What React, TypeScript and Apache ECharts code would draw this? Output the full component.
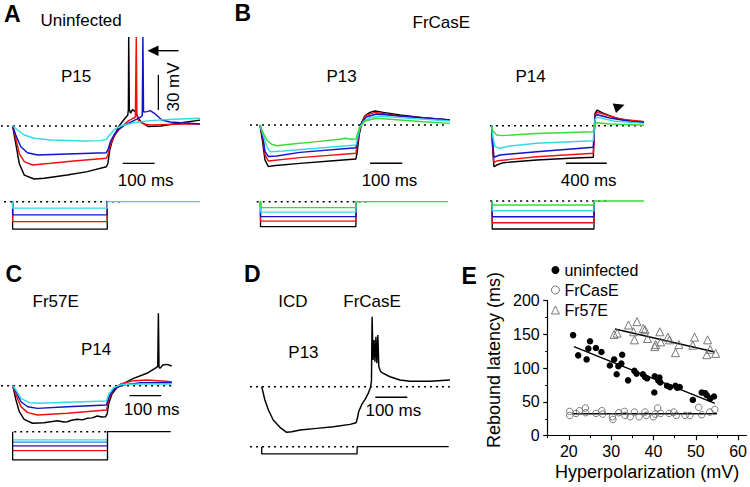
import React, { useEffect, useRef } from "react";
import * as echarts from "echarts";

type P = [number, number];

// ---------- Panel A (uninfected, P15): membrane potential, [time ms, mV re. rest]
const A_black: P[] = [[0,0],[10,-15],[21,-32],[37,-42],[68,-45.3],[100,-44.7],[173,-41.9],[237,-39],[297,-34.8],[302,-32],[308,-20.5],[315,-13.4],[326,-6.3],[336,-0.6],[352,5.1],[365,9.4],[367,14],[368,76],[370,14],[374,11],[380,14],[390,12],[400,6],[410,2.8],[430,-0.5],[470,0],[530,2.5],[594,5]];
const A_red: P[] = [[0,0],[10,-10.5],[21,-23.4],[37,-30.5],[63,-33.3],[121,-31.9],[194,-29.9],[297,-27.6],[302,-24.8],[310,-16.2],[321,-9.1],[336,-3.4],[352,0.9],[368,4.6],[382,6.6],[389,7.5],[392,76],[394,9],[399,4.6],[415,1.7],[436,0.9],[489,1.4],[594,1.7]];
const A_blue: P[] = [[0,0],[10,-7.7],[26,-17.7],[47,-22.8],[79,-24.8],[173,-23.9],[297,-22.8],[302,-20.5],[310,-13.4],[321,-7.7],[336,-2.8],[357,0.9],[384,4.6],[405,7.4],[411,9],[413,76],[415,12],[426,12.3],[436,13.1],[452,10.3],[473,5.1],[499,3.4],[594,1.7]];
const A_cyan: P[] = [[0,0],[16,-3.4],[37,-7.7],[68,-10.5],[121,-11.9],[226,-12.8],[279,-12.5],[297,-11.4],[305,-8.5],[321,-3.4],[342,0],[384,2.8],[436,4.6],[510,5.7],[594,6.6]];
// command steps (pA): black, red, blue, cyan
const A_cmd = [-550, -400, -265, -130];

// ---------- Panel B (FrCasE) P13
const B13_black: P[] = [[0,0],[8,-14.2],[15.5,-29.9],[26,-35.6],[41,-34.8],[124,-32.8],[228,-30.5],[298,-29],[302,-22.7],[308,-8.5],[316,1.4],[326,8],[342,10.8],[357,12],[383,10.8],[435,8.5],[507,6.3],[590,4.3]];
const B13_red: P[] = [[0,0],[8,-10],[15.5,-25.6],[26,-30.8],[124,-27.9],[298,-24.2],[302,-17],[308,-5.7],[316,2.3],[326,8],[357,10.8],[435,7.7],[590,4.3]];
const B13_blue: P[] = [[0,0],[8,-8.5],[15.5,-22.8],[26,-27],[52,-26.5],[124,-23.4],[298,-19.4],[302,-14.2],[308,-4.3],[316,2.3],[331,7.1],[362,9.4],[435,7.7],[590,4.3]];
const B13_cyan: P[] = [[0,0],[8,-7.1],[21,-18.5],[31,-22.8],[72,-22.2],[176,-19.9],[298,-17.1],[302,-12],[310,-2.8],[321,2.8],[342,6.3],[373,7.7],[435,6.3],[590,3.4]];
const B13_green: P[] = [[0,0],[8,-5.7],[21,-12.8],[36,-16.5],[52,-17.7],[93,-16.5],[176,-14.2],[248,-12.2],[264,-11.4],[285,-12.2],[298,-12],[302,-8],[310,-1.4],[326,3.4],[362,5.7],[435,4.3],[507,2.8],[590,1.4]];
const B13_cmd = [-500, -390, -300, -210, -120];

// ---------- Panel B (FrCasE) P14
const B14_black: P[] = [[0,0],[10,-20.8],[22,-35],[49,-33.6],[114,-31.6],[440,-29.3],[765,-27.9],[993,-27],[1000,-12],[1010,10.6],[1032,13.4],[1091,10.6],[1221,6.3],[1352,4],[1489,3.4]];
const B14_red: P[] = [[0,0],[10,-18],[22,-31.3],[59,-29.9],[440,-26.5],[993,-23.6],[1000,-9.4],[1010,9],[1032,11.5],[1124,9.1],[1254,5.7],[1489,3.4]];
const B14_blue: P[] = [[0,0],[10,-15],[22,-27],[81,-25],[440,-22.2],[993,-18.5],[1000,-6.6],[1013,8.3],[1032,9.4],[1156,6.6],[1352,3.7],[1489,2.8]];
const B14_cyan: P[] = [[0,0],[10,-9.4],[33,-17.9],[81,-19.3],[179,-17.3],[440,-15],[993,-12.8],[1000,-3.7],[1013,6.3],[1042,7.1],[1189,4],[1489,2]];
const B14_green: P[] = [[0,0],[10,-4.3],[49,-8],[98,-8.5],[440,-6.6],[993,-5.1],[1003,0.6],[1026,2.6],[1156,1.5],[1489,0.3]];
const B14_cmd = [-560, -435, -315, -195, -80];

// ---------- Panel C (Fr57E) P14
const C_black: P[] = [[0,0],[10.3,-12.2],[20.6,-22.2],[36,-28.7],[62,-32.1],[98,-31.6],[141,-29.9],[160,-31],[172,-30.8],[185,-29.5],[203,-28.7],[220,-29.2],[234,-27.9],[250,-27.5],[266,-25.9],[280,-26.8],[292,-26.5],[297,-24],[302,-15],[312,-7.1],[328,-1.4],[349,2],[380,6.3],[422,10.6],[451,15.4],[456,16.5],[458,62],[460,16],[463,14.8],[472,17.7],[485,18.2],[500,16.8]];
const C_red: P[] = [[0,0],[10.3,-8],[26,-17.9],[47,-23],[78,-25],[172,-23.5],[295,-20.8],[302,-10.8],[318,-3.1],[339,1.4],[380,4.3],[422,4.9],[500,3.4]];
const C_blue: P[] = [[0,0],[10.3,-5.1],[26,-13.7],[47,-18],[78,-19.4],[172,-18],[295,-16.5],[302,-9.4],[318,-3.1],[344,0.6],[403,2.6],[500,2.6]];
const C_cyan: P[] = [[0,0],[10.3,-3.7],[26,-10.8],[52,-14.5],[88,-15],[172,-14.2],[295,-13.1],[302,-7.1],[318,-1.4],[344,1.1],[403,1.4],[500,1.4]];
// black, red, blue, light blue, cyan
const C_cmd = [-565, -380, -285, -210, -165];

// ---------- Panel D (ICD FrCasE) P13
const D_trace: P[] = [[0,0],[10,-11.4],[21,-19.9],[36,-28.5],[57,-34.7],[78,-39],[94,-38.5],[120,-37],[172,-35.6],[224,-34.2],[276,-32.2],[295,-30.8],[299,-27],[303,-21.4],[312,-15.6],[323,-10.8],[333,-5.7],[340,-0.6],[343,5.1],[345,59.8],[348,22.8],[351,39.9],[354,21.4],[357,42.7],[360,20],[363,44.2],[366,17.1],[372,12.8],[380,11.4],[401,8.5],[432,5.7],[463,4.6],[526,4.6],[588,5.7]];
const D_cmd = [-145];

// ---------- Panel E: rebound latency (ms) vs hyperpolarization (mV)
const E_uninfected: P[] = [[21.0,149],[22.2,119],[24.2,113],[24.6,129],[25.0,140],[26.4,130],[27.7,124],[29.7,104],[30.7,113],[31.3,91],[31.7,103],[32.4,107],[32.6,120],[34.0,82],[35.5,96],[36.0,92],[37.5,91],[38.0,87],[38.5,85],[40.2,64],[40.3,88],[41.1,82],[41.4,86],[41.6,79],[43.2,74],[43.9,72],[45.2,74],[45.6,71],[46.2,72],[49.3,53],[51.4,64],[52.2,63],[52.6,60],[53.4,55],[54.3,58]];
const E_frcase: P[] = [[20.2,36],[20.2,30],[21.7,33],[22.5,37],[23.9,41],[24.0,34],[26.4,33],[27.8,37],[28.0,32],[30.3,28],[30.4,24],[31.8,34],[33.1,36],[33.3,30],[34.5,28],[35.5,35],[36.6,28],[38.0,35],[38.3,30],[40.0,28],[40.4,32],[41.0,41],[41.7,33],[43.7,33],[44.8,35],[45.4,30],[47.5,30],[48.6,30],[50.7,42],[51.4,31],[53.3,35],[54.5,39]];
const E_fr57e: P[] = [[30.7,150],[31.4,152],[34.1,164],[35.3,154],[35.5,142],[36.1,169],[37.6,159],[38.0,157],[38.6,144],[40.3,132],[40.5,135],[41.5,154],[41.7,139],[43.4,146],[43.8,142],[45.2,123],[46.0,135],[49.3,134],[49.7,146],[52.6,120],[52.8,142],[53.4,128],[54.7,122]];
const E_fit_uninfected: P[] = [[21.2,132],[54.5,48]];
const E_fit_frcase: P[] = [[21,32.5],[55,32.5]];
const E_fit_fr57e: P[] = [[30.9,158],[54.5,124]];
const E_xTicks = [20, 30, 40, 50, 60];
const E_xMinor = [15, 25, 35, 45, 55];

// ---------- colours
const BLACK = "#000000";
const RED = "#f01010";
const BLUE = "#1212c8";
const CYAN = "#30dde6";
const GREEN = "#3ada3a";
const LBLUE = "#2f86dc";
const OPEN = "#6a6a6a";

// ---------- layout of the panel coordinate systems (px origin, px per unit)
type Panel = { ox: number; oy: number; sx: number; sy: number; t: [number, number]; v: [number, number] };
const panels: Panel[] = [
  { ox: 11.7, oy: 126, sx: 0.317, sy: 1.17, t: [-40, 600], v: [-50, 80] }, // 0 A
  { ox: 11.7, oy: 201.7, sx: 0.317, sy: 0.05, t: [-40, 600], v: [-600, 60] }, // 1 A cmd
  { ox: 260, oy: 125, sx: 0.322, sy: 1.17, t: [-40, 600], v: [-45, 20] }, // 2 B13
  { ox: 260.5, oy: 201.7, sx: 0.318, sy: 0.05, t: [-40, 600], v: [-600, 60] }, // 3 B13 cmd
  { ox: 491.7, oy: 125.7, sx: 0.1023, sy: 1.17, t: [-30, 1520], v: [-45, 25] }, // 4 B14
  { ox: 492.2, oy: 201, sx: 0.1018, sy: 0.05, t: [-30, 1520], v: [-600, 60] }, // 5 B14 cmd
  { ox: 11.7, oy: 385.7, sx: 0.32, sy: 1.17, t: [-40, 520], v: [-40, 70] }, // 6 C
  { ox: 11.7, oy: 431.7, sx: 0.318, sy: 0.05, t: [-40, 520], v: [-600, 60] }, // 7 C cmd
  { ox: 261.7, oy: 386.7, sx: 0.32, sy: 1.17, t: [-40, 600], v: [-45, 65] }, // 8 D
  { ox: 261.7, oy: 446.7, sx: 0.318, sy: 0.05, t: [-40, 600], v: [-600, 60] }, // 9 D cmd
];

const FONT = "'Liberation Sans', Arial, Helvetica, sans-serif";

function buildOption() {
  const grids: any[] = [];
  const xAxes: any[] = [];
  const yAxes: any[] = [];
  panels.forEach((p, i) => {
    grids.push({
      left: p.ox + p.t[0] * p.sx,
      top: p.oy - p.v[1] * p.sy,
      width: (p.t[1] - p.t[0]) * p.sx,
      height: (p.v[1] - p.v[0]) * p.sy,
      containLabel: false,
    });
    xAxes.push({ type: "value", gridIndex: i, min: p.t[0], max: p.t[1], show: false });
    yAxes.push({ type: "value", gridIndex: i, min: p.v[0], max: p.v[1], show: false });
  });

  // panel E grid
  const eIdx = panels.length;
  grids.push({ left: 547.7, top: 300.7, width: 202.1, height: 135, containLabel: false });
  const axisCommon = {
    axisLine: { show: true, lineStyle: { color: "#000", width: 1.2 } },
    axisLabel: { color: "#000", fontSize: 16, fontFamily: FONT, margin: 8 },
    splitLine: { show: false },
    nameTextStyle: { color: "#000", fontSize: 18, fontFamily: FONT },
  };
  xAxes.push({
    ...axisCommon,
    type: "value",
    gridIndex: eIdx,
    min: 15,
    max: 62,
    position: "bottom",
    axisTick: { show: true, length: 4.5, lineStyle: { color: "#000", width: 1.2 }, customValues: E_xTicks },
    axisLabel: { ...axisCommon.axisLabel, customValues: E_xTicks },
    name: "Hyperpolarization (mV)",
    nameLocation: "middle",
    nameGap: 27,
  });
  yAxes.push({
    ...axisCommon,
    type: "value",
    gridIndex: eIdx,
    min: 0,
    max: 200,
    interval: 50,
    axisTick: { show: true, length: 4.5, lineStyle: { color: "#000", width: 1.2 } },
    minorTick: { show: true, splitNumber: 2, length: 2.5, lineStyle: { color: "#000", width: 1 } },
    minorSplitLine: { show: false },
  });
  // minor ticks on x
  xAxes.push({
    type: "value",
    gridIndex: eIdx,
    min: 15,
    max: 62,
    position: "bottom",
    axisLine: { show: false },
    axisLabel: { show: false },
    splitLine: { show: false },
    axisTick: { show: true, length: 2.5, lineStyle: { color: "#000", width: 1 }, customValues: E_xMinor },
  });

  const series: any[] = [];
  const line = (g: number, data: P[], color: string, width = 1.45, type: any = "solid", z = 2) => {
    series.push({
      type: "line",
      xAxisIndex: g,
      yAxisIndex: g,
      data,
      symbol: "none",
      showSymbol: false,
      silent: true,
      clip: false,
      z,
      lineStyle: { color, width, type, cap: "butt" },
    });
  };
  const dotted = (g: number, t0: number, t1: number) => line(g, [[t0, 0], [t1, 0]], "#000", 1.4, [2, 4], 1);
  const step = (g: number, level: number, dur: number, color: string) =>
    line(g, [[0, 0], [0, level], [dur, level], [dur, 0]], color, 1.3);

  // ---- A
  dotted(0, -37, 335);
  line(0, A_black, BLACK);
  line(0, A_red, RED);
  line(0, A_blue, BLUE);
  line(0, A_cyan, CYAN);
  line(0, [[349, -32], [450, -32]], BLACK, 1.3); // 100 ms
  line(0, [[462, 13.7], [462, 43.7]], BLACK, 1.3); // 30 mV
  dotted(1, -27, 341);
  [BLACK, RED, BLUE, CYAN].forEach((c, i) => step(1, A_cmd[i], 300, c));
  line(1, [[300, 0], [594, 0]], CYAN, 1.3);

  // ---- B P13
  dotted(2, -31, 580);
  line(2, B13_black, BLACK);
  line(2, B13_red, RED);
  line(2, B13_blue, BLUE);
  line(2, B13_cyan, CYAN);
  line(2, B13_green, GREEN);
  line(2, [[342, -32.7], [442, -32.7]], BLACK, 1.3);
  dotted(3, -12, 347);
  [BLACK, RED, BLUE, CYAN, GREEN].forEach((c, i) => step(3, B13_cmd[i], 300, c));
  line(3, [[300, 0], [590, 0]], GREEN, 1.3);

  // ---- B P14
  dotted(4, -17, 1500);
  line(4, B14_black, BLACK);
  line(4, B14_red, RED);
  line(4, B14_blue, BLUE);
  line(4, B14_cyan, CYAN);
  line(4, B14_green, GREEN);
  line(4, [[725, -32.1], [1125, -32.1]], BLACK, 1.3);
  dotted(5, -20, 1125);
  [BLACK, RED, BLUE, CYAN, GREEN].forEach((c, i) => step(5, B14_cmd[i], 1000, c));
  line(5, [[1000, 0], [1490, 0]], GREEN, 1.3);

  // ---- C
  dotted(6, -36.5, 500);
  line(6, C_black, BLACK);
  line(6, C_red, RED);
  line(6, C_blue, BLUE);
  line(6, C_cyan, CYAN);
  line(6, [[367, -8.5], [467, -8.5]], BLACK, 1.3);
  dotted(7, 5, 297);
  [RED, BLUE, LBLUE, CYAN].forEach((c, i) => line(7, [[0, C_cmd[i + 1]], [300, C_cmd[i + 1]]], c, 1.3));
  line(7, [[0, 0], [0, C_cmd[0]], [300, C_cmd[0]], [300, 0], [500, 0]], BLACK, 1.3);

  // ---- D
  dotted(8, -36.5, 588);
  line(8, D_trace, BLACK);
  line(8, [[355, -9], [455, -9]], BLACK, 1.3);
  dotted(9, -36.5, 297);
  line(9, [[0, 0], [0, D_cmd[0]], [300, D_cmd[0]], [300, 0], [588, 0]], BLACK, 1.3);

  // ---- E
  const eLine = (data: P[]) =>
    series.push({
      type: "line",
      xAxisIndex: eIdx,
      yAxisIndex: eIdx,
      data,
      symbol: "none",
      silent: true,
      z: 1,
      lineStyle: { color: "#000", width: 1.4 },
    });
  const openStyle = { color: "rgba(255,255,255,0)", borderColor: OPEN, borderWidth: 0.9, opacity: 1 };
  series.push({
    name: "uninfected",
    type: "scatter",
    xAxisIndex: eIdx,
    yAxisIndex: eIdx,
    data: E_uninfected,
    symbol: "circle",
    symbolSize: 6.5,
    itemStyle: { color: "#000", opacity: 1 },
    z: 3,
  });
  series.push({
    name: "FrCasE",
    type: "scatter",
    xAxisIndex: eIdx,
    yAxisIndex: eIdx,
    data: E_frcase,
    symbol: "circle",
    symbolSize: 6.5,
    itemStyle: openStyle,
    z: 3,
  });
  series.push({
    name: "Fr57E",
    type: "scatter",
    xAxisIndex: eIdx,
    yAxisIndex: eIdx,
    data: E_fr57e,
    symbol: "triangle",
    symbolSize: 8,
    itemStyle: openStyle,
    z: 3,
  });
  eLine(E_fit_uninfected);
  eLine(E_fit_frcase);
  eLine(E_fit_fr57e);

  const txt = (text: string, x: number, y: number, size = 17, align = "left", bold = false, rotation = 0) => ({
    type: "text",
    x,
    y,
    rotation,
    silent: true,
    style: {
      text,
      x: 0,
      y: 0,
      fill: "#000",
      font: `${bold ? "bold " : ""}${size}px ${FONT}`,
      textAlign: align,
      textVerticalAlign: "middle",
      verticalAlign: "middle",
    },
  });

  const graphic: any[] = [
    txt("A", 4, 13.5, 23, "left", true),
    txt("Uninfected", 40.5, 20.5),
    txt("P15", 61, 76),
    txt("30 mV", 173, 87, 17, "center", false, Math.PI / 2),
    txt("100 ms", 145.7, 180, 17, "center"),
    txt("B", 234.5, 13, 23, "left", true),
    txt("FrCasE", 412.5, 22),
    txt("P13", 326.5, 76),
    txt("100 ms", 389.5, 180, 17, "center"),
    txt("P14", 515.5, 76),
    txt("400 ms", 588.7, 180, 17, "center"),
    txt("C", 5.5, 273.5, 23, "left", true),
    txt("Fr57E", 32.5, 301),
    txt("P14", 81, 349.5),
    txt("100 ms", 151.7, 409, 17, "center"),
    txt("D", 244, 273.5, 23, "left", true),
    txt("ICD", 278.3, 301),
    txt("FrCasE", 343.3, 301),
    txt("P13", 288.3, 352.5),
    txt("100 ms", 393.3, 410.8, 17, "center"),
    txt("E", 461.5, 275.5, 23, "left", true),
    txt("Rebound latency (ms)", 494, 360, 18, "center", false, Math.PI / 2),
    {
      type: "line",
      silent: true,
      shape: { x1: 155, y1: 50.7, x2: 178.5, y2: 50.7 },
      style: { stroke: "#000", lineWidth: 1.4 },
    },
    {
      type: "polygon",
      silent: true,
      shape: { points: [[147.5, 50.7], [158.5, 45.5], [158.5, 56]] },
      style: { fill: "#000" },
    },
    {
      type: "polygon",
      silent: true,
      shape: { points: [[612.7, 103.5], [624.5, 104.8], [616, 113]] },
      style: { fill: "#000" },
    },
  ];

  return {
    animation: false,
    backgroundColor: "#ffffff",
    textStyle: { fontFamily: FONT },
    grid: grids,
    xAxis: xAxes,
    yAxis: yAxes,
    legend: {
      data: [
        { name: "uninfected", icon: "circle", itemStyle: { color: "#000" } },
        { name: "FrCasE", icon: "circle", itemStyle: { color: "#fff", borderColor: OPEN, borderWidth: 0.9 } },
        { name: "Fr57E", icon: "triangle", itemStyle: { color: "#fff", borderColor: OPEN, borderWidth: 0.9 } },
      ],
      orient: "vertical",
      left: 551,
      top: 262,
      itemWidth: 8,
      itemHeight: 8,
      itemGap: 4,
      padding: 0,
      selectedMode: false,
      textStyle: { color: "#000", fontSize: 16, fontFamily: FONT },
    },
    series,
    graphic,
  };
}

export default function App() {
  const ref = useRef<HTMLDivElement>(null);
  useEffect(() => {
    if (!ref.current) return;
    const chart = echarts.init(ref.current, null, { renderer: "svg" });
    chart.setOption(buildOption() as any);
    return () => chart.dispose();
  }, []);
  return (
    <div
      ref={ref}
      style={{ position: "absolute", left: 0, top: 0, width: 750, height: 487, background: "#fff" }}
    />
  );
}
